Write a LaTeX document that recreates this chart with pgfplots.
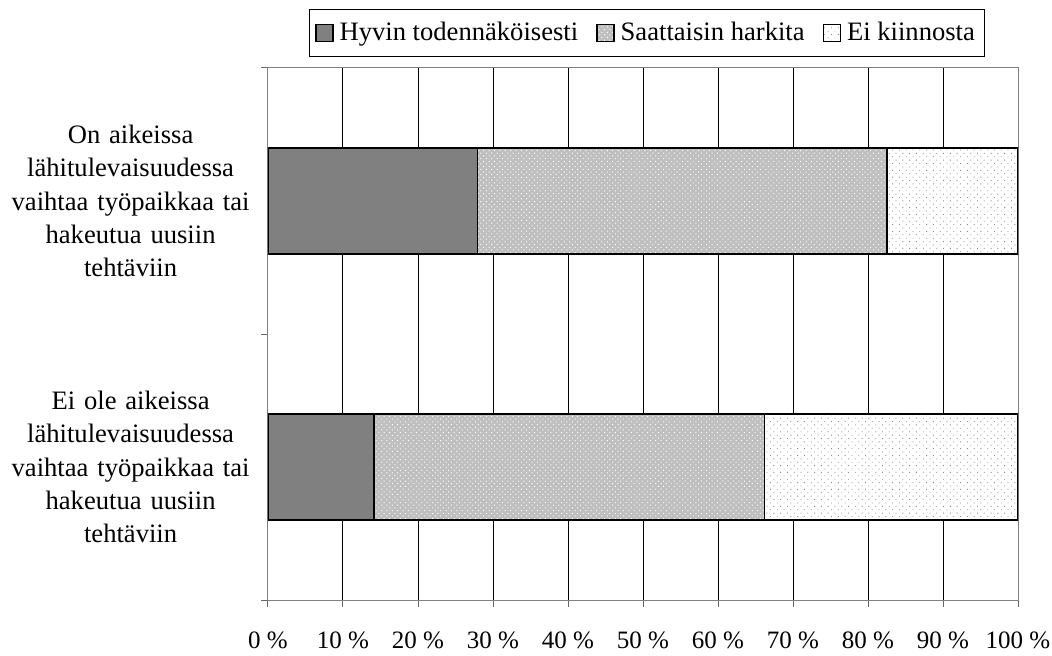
\documentclass[border=0pt]{standalone}
\usepackage{fontspec}
\setmainfont{Liberation Serif}
\usepackage{pgfplots}
\pgfplotsset{compat=1.18}
\usetikzlibrary{patterns.meta}
\newcommand\lbl{\fontsize{13.3pt}{16.6pt}\selectfont}
\newcommand\tck{\fontsize{12.5pt}{14pt}\selectfont}
\begin{document}
\begin{tikzpicture}
\begin{axis}[
  scale only axis, width=375pt, height=266pt,
  xbar stacked, bar width=0.4,
  xmin=0, xmax=100, ymin=-0.5, ymax=1.5,
  xtick={0,10,...,100},
  xticklabels={0 \%,10 \%,20 \%,30 \%,40 \%,50 \%,60 \%,70 \%,80 \%,90 \%,100 \%},
  xtick pos=left, ytick pos=left, tick align=outside,
  major tick length=3.5pt,
  xmajorgrids, grid style={black, line width=0.5pt},
  axis line style={black!50, line width=0.5pt},
  tick style={black!60, line width=0.5pt},
  ytick={-0.5,0.5,1.5}, yticklabels={},
  yticklabel style={inner sep=0pt},
  extra y ticks={0,1},
  extra y tick labels={{Ei ole aikeissa\\lähitulevaisuudessa\\vaihtaa työpaikkaa tai\\hakeutua uusiin\\tehtäviin},{On aikeissa\\lähitulevaisuudessa\\vaihtaa työpaikkaa tai\\hakeutua uusiin\\tehtäviin}},
  extra y tick style={major tick length=0pt, tick style={draw=none},
    yticklabel style={font=\lbl, align=center, text width=125pt, inner sep=0pt, xshift=-6pt}},
  xticklabel style={font=\tck, inner xsep=0pt, yshift=-9pt},
  legend columns=3,
  legend style={at={(0.5,1)}, anchor=south, yshift=5.5pt, xshift=2pt,
    draw=black, line width=0.5pt, font=\lbl, inner ysep=4.5pt, inner xsep=3pt,
    /tikz/every odd column/.append style={column sep=1pt},
    /tikz/every even column/.append style={column sep=7pt}},
  legend image code/.code={\draw[#1] (0pt,-4.25pt) rectangle (8.5pt,4.25pt);},
]
\addplot[draw=black, line width=0.75pt, fill=black!50] coordinates {(14.1,0) (27.9,1)};
\addplot[draw=black, line width=0.75pt, fill=black!25,
  postaction={pattern={Dots[distance=1.9pt,angle=45,radius=0.35pt]}, pattern color=white}] coordinates {(52.1,0) (54.6,1)};
\addplot[draw=black, line width=0.75pt, fill=white,
  postaction={pattern={Dots[distance=2.4pt,angle=45,radius=0.3pt]}, pattern color=black!45}] coordinates {(33.8,0) (17.5,1)};
\legend{Hyvin todennäköisesti, Saattaisin harkita, Ei kiinnosta}
\end{axis}
\path (current axis.south west) ++(-134pt,-25pt);
\path (current axis.north east) ++(17pt,34pt);
\end{tikzpicture}
\end{document}
